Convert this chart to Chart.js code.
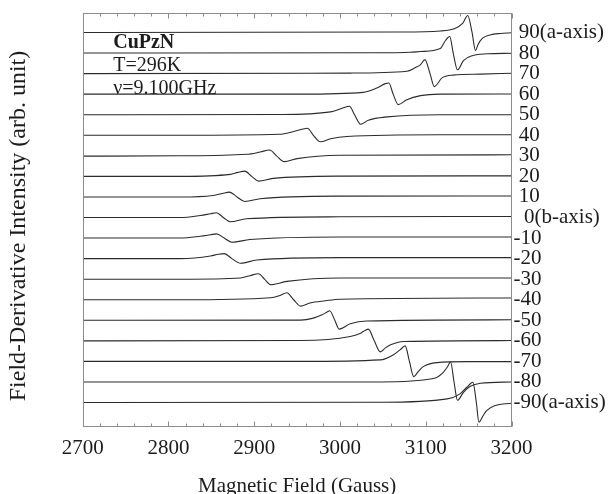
<!DOCTYPE html>
<html>
<head>
<meta charset="utf-8">
<script src="https://cdn.jsdelivr.net/npm/chart.js@4/dist/chart.umd.min.js"></script>
<style>
html,body{margin:0;padding:0;background:#fff;}
#wrap{width:611px;height:494px;}
</style>
</head>
<body>
<div id="wrap"><canvas id="c" width="611" height="494"></canvas></div>
<script>
// ---------- DATA ----------
const angles = [90, 80, 70, 60, 50, 40, 30, 20, 10, 0, -10, -20, -30, -40, -50, -60, -70, -80, -90];
const angleLabels = [' 90(a-axis)', ' 80', ' 70', ' 60', ' 50', ' 40', ' 30', ' 20', ' 10', '  0(b-axis)',
  '-10', '-20', '-30', '-40', '-50', '-60', '-70', '-80', '-90(a-axis)'];
const xTicks = [2700, 2800, 2900, 3000, 3100, 3200];
const infoLines = ['CuPzN', 'T=296K', '\u03bd=9.100GHz'];

// field (Gauss) and derivative intensity (arb. unit) of each spectrum
const field_p90 = [2700, 3070, 3117, 3134, 3143, 3149, 3154, 3158, 3161, 3166, 3175, 3187, 3200];
const signal_p90 = [0, 0.5, 1.5, 4, 9, 17, 0, -18, -12, -6, -2.5, -1, -0.3];
const field_p80 = [2700, 3047, 3082, 3094, 3117, 3123, 3128, 3132, 3137, 3144, 3155, 3172, 3200];
const signal_p80 = [0, 0.2, 0.8, 1.5, 4.5, 12.5, 16.5, 0, -16.8, -7.5, -2.5, -0.8, -0.2];
const field_p70 = [2700, 3012, 3078, 3088, 3094, 3099, 3105, 3110, 3119, 3132, 3164, 3200];
const signal_p70 = [0, 0.5, 2.3, 6, 9, 14, 0, -13, -4.3, -1.5, -0.5, 0.3];
const field_p60 = [2700, 2954, 3027, 3043, 3053, 3057, 3062, 3068, 3078, 3094, 3117, 3200];
const signal_p60 = [0, 0, 1.8, 6.2, 10.5, 11.2, 0, -10.5, -5.5, -1.5, 0, 0.2];
const field_p50 = [2700, 2930, 2989, 3002, 3011, 3017, 3024, 3033, 3055, 3117, 3200];
const signal_p50 = [0, 0.2, 2.8, 6.2, 8.5, 0, -9.5, -5.5, -2.2, 0, 0];
const field_p40 = [2700, 2814, 2930, 2946, 2957, 2962, 2969, 2977, 2989, 3008, 3117, 3200];
const signal_p40 = [0, 0, 1, 3.8, 6.2, 7, 0, -6.5, -3.5, -1.2, 0.5, 0.5];
const field_p30 = [2700, 2814, 2891, 2907, 2918, 2926, 2935, 2950, 3000, 3200];
const signal_p30 = [-0.3, 0, 1.5, 3.8, 5.8, 0, -5.8, -2.8, 0.5, 1];
const field_p20 = [2700, 2814, 2872, 2881, 2889, 2897, 2905, 2922, 3000, 3200];
const signal_p20 = [0, 0, 2, 4, 5.3, 0, -4.7, -2, 0.3, 0.5];
const field_p10 = [2700, 2814, 2852, 2863, 2871, 2880, 2889, 2907, 3000, 3200];
const signal_p10 = [0, 0, 1.5, 3.5, 4.8, 0, -4.5, -1.8, 0.8, 1];
const field_0 = [2700, 2814, 2837, 2849, 2856, 2864, 2872, 2891, 3000, 3200];
const signal_0 = [0, 0, 2, 3.7, 4.7, 0, -4.3, -1.3, 0.7, 1];
const field_m10 = [2700, 2814, 2837, 2849, 2856, 2865, 2874, 2895, 3000, 3200];
const signal_m10 = [0, 0, 1.8, 3.3, 4.2, 0, -4.2, -1.5, 1, 1];
const field_m20 = [2700, 2814, 2849, 2858, 2865, 2874, 2884, 2903, 3000, 3200];
const signal_m20 = [0, 0, 2.6, 4.3, 5, 0, -4.7, -1.4, 1, 1];
const field_m30 = [2700, 2814, 2884, 2895, 2905, 2912, 2919, 2938, 3000, 3200];
const signal_m30 = [0, 0, 1.2, 3.5, 5.5, 0, -5.5, -2.2, 1.2, 1.2];
const field_m40 = [2700, 2814, 2919, 2930, 2938, 2946, 2954, 2965, 2983, 3000, 3200];
const signal_m40 = [0, 0, 2, 4.3, 7, 0, -6.4, -3.2, -1, 0.5, 1.8];
const field_m50 = [2700, 2954, 2969, 2979, 2985, 2988, 2994, 2999, 3012, 3031, 3200];
const signal_m50 = [0, 0.2, 2.2, 5.5, 8.2, 9.5, 0, -8.8, -3.5, -0.7, 0.5];
const field_m60 = [2700, 2954, 3012, 3024, 3027, 3033, 3040, 3047, 3053, 3059, 3074, 3200];
const signal_m60 = [0, 0.3, 4.3, 7.5, 9.3, 11.7, 0, -11, -7, -4, -0.7, 0.3];
const field_m70 = [2700, 2954, 3047, 3062, 3070, 3076, 3081, 3086, 3091, 3097, 3113, 3148, 3200];
const signal_m70 = [0, 0, 1.5, 6.5, 11.5, 15.5, 0, -15.2, -10.5, -5.2, -1.2, -0.2, -0.2];
const field_m80 = [2700, 2954, 3047, 3109, 3119, 3125, 3129, 3133, 3137, 3144, 3152, 3164, 3200];
const signal_m80 = [0, 0, 0, 3.4, 8.4, 14.7, 20, 0, -18.3, -10.3, -4.3, -1.3, 0];
const field_m90 = [2700, 3047, 3125, 3140, 3148, 3155, 3159, 3162, 3167, 3171, 3181, 3200];
const signal_m90 = [0, 0.3, 3.7, 8.7, 15.3, 20.3, 0, -19.7, -13, -8, -3, -0.7];

const fields = [field_p90, field_p80, field_p70, field_p60, field_p50, field_p40, field_p30, field_p20, field_p10,
  field_0, field_m10, field_m20, field_m30, field_m40, field_m50, field_m60, field_m70, field_m80, field_m90];
const signals = [signal_p90, signal_p80, signal_p70, signal_p60, signal_p50, signal_p40, signal_p30, signal_p20, signal_p10,
  signal_0, signal_m10, signal_m20, signal_m30, signal_m40, signal_m50, signal_m60, signal_m70, signal_m80, signal_m90];

// vertical offset between successive spectra (arb. units per degree)
const OFFSET_PER_DEG = 2.056;

// ---------- CHART ----------
const SERIF = '"Liberation Serif", "Times New Roman", serif';
const TEXT = '#1c1c1c';

const datasets = angles.map((a, i) => ({
  label: String(a),
  data: fields[i].map((f, j) => ({x: f, y: a * OFFSET_PER_DEG + signals[i][j]})),
  borderColor: '#2b2b2b',
  borderWidth: 1.1,
  pointRadius: 0,
  fill: false,
  cubicInterpolationMode: 'monotone',
  yAxisID: 'y'
}));

const framePlugin = {
  id: 'frame',
  afterDatasetsDraw(chart) {
    const {ctx, chartArea: {left, right, top, bottom}, scales: {x}} = chart;
    ctx.save();
    ctx.strokeStyle = '#8c8c8c';
    ctx.lineWidth = 1;
    ctx.strokeRect(Math.round(left) + 0.5, Math.round(top) + 0.5,
      Math.round(right) - Math.round(left) - 1, Math.round(bottom) - Math.round(top) - 1);
    ctx.beginPath();
    for (let v = xTicks[0]; v <= xTicks[xTicks.length - 1]; v += 20) {
      const px = Math.round(x.getPixelForValue(v)) + 0.5;
      const len = (v % 100 === 0) ? 5 : 3;
      ctx.moveTo(px, Math.round(bottom) - 0.5);
      ctx.lineTo(px, Math.round(bottom) - 0.5 - len);
      ctx.moveTo(px, Math.round(top) + 0.5);
      ctx.lineTo(px, Math.round(top) + 0.5 + len);
    }
    ctx.stroke();
    // sample information
    ctx.fillStyle = TEXT;
    ctx.textAlign = 'left';
    ctx.textBaseline = 'alphabetic';
    ctx.font = 'bold 20px ' + SERIF;
    ctx.fillText(infoLines[0], left + 30.5, top + 34.7);
    ctx.font = '20px ' + SERIF;
    ctx.fillText(infoLines[1], left + 30.5, top + 57.7);
    ctx.fillText(infoLines[2], left + 30.5, top + 80.5);
    ctx.restore();
  }
};

new Chart(document.getElementById('c'), {
  type: 'line',
  data: {datasets},
  options: {
    responsive: false,
    animation: false,
    events: [],
    layout: {padding: {left: 0, right: 5, top: 13, bottom: 0}},
    plugins: {legend: {display: false}, tooltip: {enabled: false}, title: {display: false}},
    scales: {
      x: {
        type: 'linear',
        position: 'bottom',
        min: 2700,
        max: 3200,
        grid: {display: false, drawTicks: false},
        border: {display: false},
        afterBuildTicks: (s) => { s.ticks = xTicks.map(v => ({value: v})); },
        afterFit: (s) => { s.height = 67; },
        ticks: {
          padding: 9,
          color: TEXT,
          font: {family: SERIF, size: 21, lineHeight: 1.2},
          callback: (v) => String(v),
          maxRotation: 0,
          autoSkip: false
        },
        title: {
          display: true,
          text: 'Magnetic Field (Gauss)',
          color: TEXT,
          font: {family: SERIF, size: 21, lineHeight: 1.0},
          padding: {top: 14.5, bottom: -3}
        }
      },
      y: {
        type: 'linear',
        position: 'right',
        min: -209.5,
        max: 204.5,
        grid: {display: false, drawTicks: false},
        border: {display: false},
        afterBuildTicks: (s) => { s.ticks = angles.slice().reverse().map(a => ({value: a * OFFSET_PER_DEG})); },
        afterFit: (s) => { s.width = 94.5; },
        ticks: {
          padding: 2,
          color: TEXT,
          autoSkip: false,
          font: {family: SERIF, size: 21, lineHeight: 1.0},
          callback: (v) => {
            const idx = angles.indexOf(Math.round(v / OFFSET_PER_DEG));
            return idx >= 0 ? angleLabels[idx] : '';
          }
        }
      },
      yl: {
        type: 'linear',
        position: 'left',
        display: true,
        grid: {display: false, drawTicks: false},
        border: {display: false},
        ticks: {display: false},
        afterFit: (s) => { s.width = 82.7; },
        title: {
          display: true,
          text: 'Field-Derivative Intensity (arb. unit)  ',
          color: TEXT,
          font: {family: SERIF, size: 24, lineHeight: 1.2},
          padding: {top: 4.6, bottom: 49.3}
        }
      }
    }
  },
  plugins: [framePlugin]
});
</script>
</body>
</html>
